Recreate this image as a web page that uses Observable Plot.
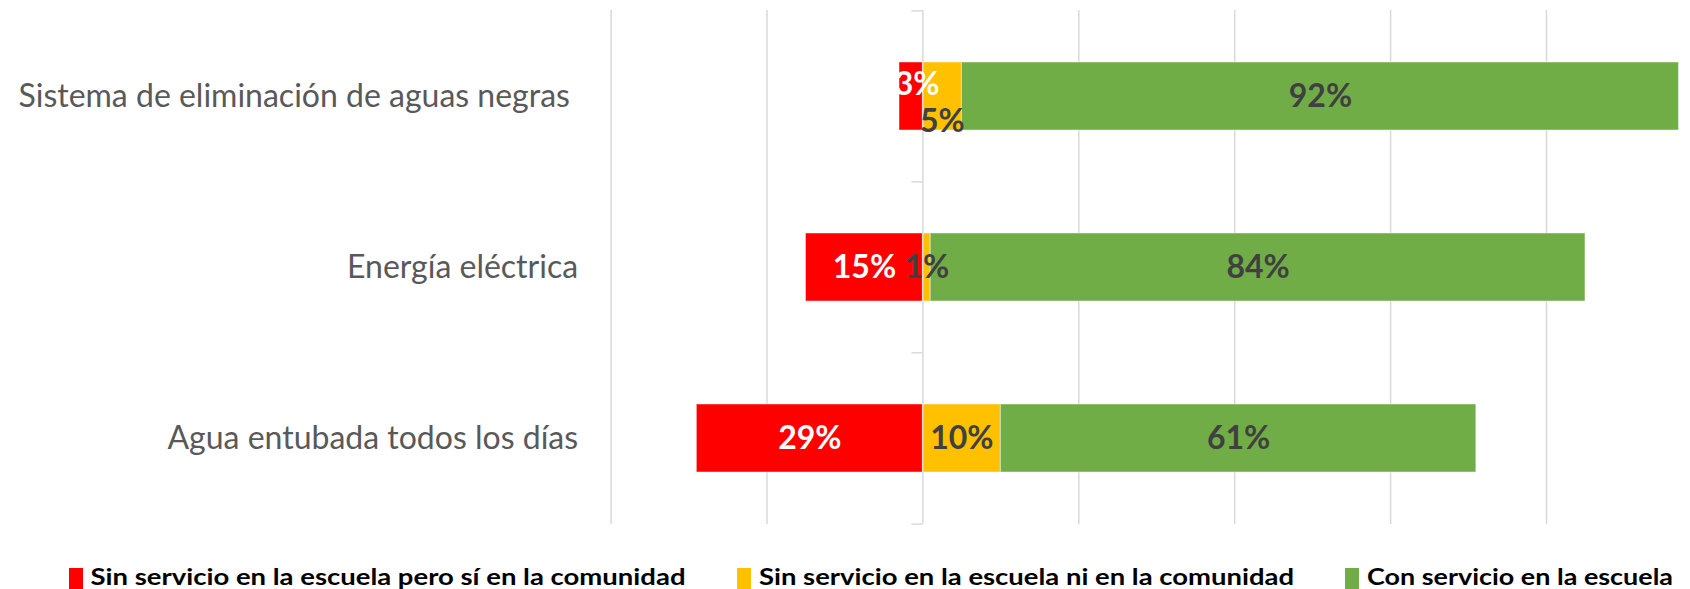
<!DOCTYPE html>
<html><head><meta charset="utf-8">
<script src="https://cdn.jsdelivr.net/npm/d3@7"></script>
<script src="https://cdn.jsdelivr.net/npm/@observablehq/plot@0.6"></script>
<style>
html,body{margin:0;padding:0;background:#fff;}
#chart{width:1690px;height:589px;position:relative;overflow:hidden;background:#fff;}
#chart svg{display:block;}
</style></head><body><div id="chart"></div>
<script>
const categories = ["Sistema de eliminación de aguas negras ", "Energía eléctrica", "Agua entubada todos los días"];
const seriesNames = ["Sin servicio en la escuela pero sí en la comunidad", "Sin servicio en la escuela ni en la comunidad", "Con servicio en la escuela"];
const sinServicioEscuelaSiComunidad = [3, 15, 29];
const sinServicioNiComunidad = [5, 1, 10];
const conServicioEscuela = [92, 84, 61];
const gridTicks = [-40, -20, 20, 40, 60, 80];
const seriesColors = ["#FF0000", "#FFC000", "#70AD47"];

// build segments: red goes left of zero, yellow and green stack right
const segments = [];
categories.forEach((cat, i) => {
  const r = sinServicioEscuelaSiComunidad[i], y = sinServicioNiComunidad[i], g = conServicioEscuela[i];
  segments.push({cat, row: i, s: 0, series: seriesNames[0], value: r, x1: -r, x2: 0});
  segments.push({cat, row: i, s: 1, series: seriesNames[1], value: y, x1: 0, x2: y});
  segments.push({cat, row: i, s: 2, series: seriesNames[2], value: g, x1: y, x2: y + g});
});

const W = 1690, H = 556, mT = 10, mB = 32;
const step = (H - mT - mB) / categories.length;
const labelFill = d => d.s === 0 ? "#FFFFFF" : "#404040";
const mid = d => (d.x1 + d.x2) / 2;
const crowded = d => d.row === 0 && d.s < 2;

const plot = Plot.plot({
  width: W, height: H,
  marginTop: mT, marginBottom: mB, marginLeft: 610.6, marginRight: 11.5,
  x: {domain: [-40, 97], axis: null},
  y: {domain: categories, paddingInner: 0.6, paddingOuter: 0.3, axis: null, label: null},
  color: {domain: seriesNames, range: seriesColors},
  style: {fontFamily: "Lato, 'Open Sans', sans-serif", background: "#fff", overflow: "visible"},
  marks: [
    Plot.ruleX(gridTicks, {stroke: "#D9D9D9", strokeWidth: 1.5}),
    Plot.barX(segments, {y: "cat", x1: "x1", x2: "x2", fill: "series", stroke: "#fff", strokeOpacity: 0.45, strokeWidth: 1}),
    Plot.ruleX([0], {stroke: "#D9D9D9", strokeWidth: 1.5}),
    Plot.ruleY(categories, {y: d => d, x1: -1.41, x2: 0, dy: -step / 2, stroke: "#D9D9D9", strokeWidth: 1.5}),
    Plot.ruleY(categories.slice(-1), {y: d => d, x1: -1.41, x2: 0, dy: step / 2, stroke: "#D9D9D9", strokeWidth: 1.5}),
    Plot.axisY({anchor: "left", label: null, tickSize: 0, tickPadding: 33, fontSize: 32, fill: "#595959"}),
    Plot.text(segments, {filter: d => !crowded(d), x: mid, y: "cat", text: d => d.value + "%", fill: labelFill, fontWeight: "bold", fontSize: 32}),
    Plot.text(segments, {filter: d => crowded(d) && d.s === 0, x: mid, y: "cat", text: d => d.value + "%", fill: labelFill, fontWeight: "bold", fontSize: 32, dx: 6, dy: -12}),
    Plot.text(segments, {filter: d => crowded(d) && d.s === 1, x: mid, y: "cat", text: d => d.value + "%", fill: labelFill, fontWeight: "bold", fontSize: 32, dy: 25})
  ]
});
d3.select(plot).selectAll("text").style("white-space", "pre");
document.getElementById("chart").appendChild(plot);

// legend below the chart
const legendPos = [
  {sx: 69, tx: 90.5, tw: 595},
  {sx: 737, tx: 759, tw: 535},
  {sx: 1345, tx: 1367, tw: 306}
];
const leg = d3.select("#chart").append("svg").attr("width", W).attr("height", 589 - H)
  .style("font-family", "Lato, 'Open Sans', sans-serif");
const items = leg.selectAll("g").data(seriesNames).join("g");
items.append("rect").attr("x", (d, i) => legendPos[i].sx).attr("y", 12).attr("width", 14).attr("height", 21)
  .attr("fill", (d, i) => seriesColors[i]);
items.append("text").attr("x", (d, i) => legendPos[i].tx).attr("y", 29)
  .attr("textLength", (d, i) => legendPos[i].tw).attr("lengthAdjust", "spacingAndGlyphs")
  .attr("font-size", 22).attr("font-weight", "bold").attr("fill", "#000").text(d => d);
</script></body></html>
